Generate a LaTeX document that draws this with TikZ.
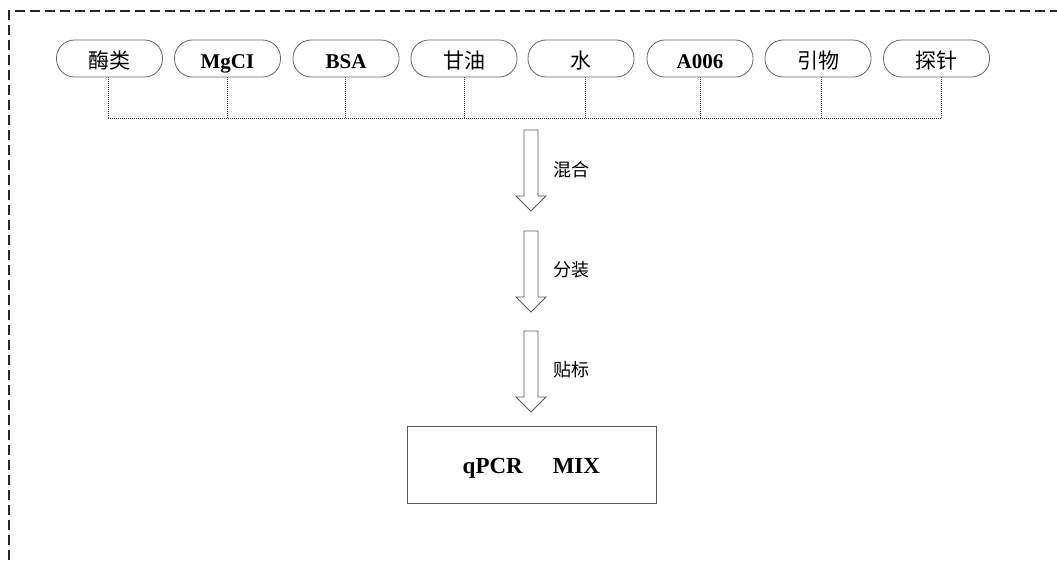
\documentclass[tikz,border=0pt]{standalone}
\usepackage{fontspec}
\setmainfont{Liberation Serif}
\newfontfamily\cjk{Noto Sans CJK SC}
\begin{document}
\begin{tikzpicture}[x=1pt,y=-1pt,
  pill/.style={draw=black!60, line width=0.8pt, rounded corners=18pt, minimum width=106pt, minimum height=37pt, inner sep=0pt, text height=19pt, text depth=0pt, font=\fontsize{21}{21}\selectfont},
  busline/.style={draw=black!75, line width=0.9pt, dash pattern=on 1pt off 1pt},
  frameline/.style={draw=black!85, line width=1.1pt, dash pattern=on 10pt off 5pt},
  steplabel/.style={anchor=west, inner sep=0pt, font=\cjk\fontsize{18}{18}\selectfont},
  resultbox/.style={draw=black!65, line width=0.8pt, minimum width=249pt, minimum height=77pt, inner sep=0pt, text height=17pt, text depth=0pt, font=\bfseries\fontsize{23}{23}\selectfont},
  hollowarrow/.pic={\draw[draw=black!65, line width=0.8pt, fill=white] (-7,0) -- (-7,66) -- (-15,66) -- (0,81) -- (15,66) -- (7,66) -- (7,0) -- cycle;}
]
\useasboundingbox (0,0) rectangle (1057,560);
\fill[white] (0,0) rectangle (1057,560);
% dashed frame (only left and top visible)
\coordinate (fbl) at (9,560);
\coordinate (ftl) at (9,11);
\coordinate (ftr) at (1057,11);
\draw[frameline] (fbl) -- (ftl) -- (ftr);
% pills
\node[pill] (p1) at (109.5,58.5) {\cjk 酶类};
\node[pill] (p2) at (227.5,58.5) {\bfseries MgCI};
\node[pill] (p3) at (346,58.5) {\bfseries BSA};
\node[pill] (p4) at (464,58.5) {\cjk 甘油};
\node[pill] (p5) at (581,58.5) {\cjk 水};
\node[pill] (p6) at (700,58.5) {\bfseries A006};
\node[pill] (p7) at (818,58.5) {\cjk 引物};
\node[pill] (p8) at (936.5,58.5) {\cjk 探针};
% bus
\coordinate (b1) at (108,118);
\coordinate (b2) at (227,118);
\coordinate (b3) at (345,118);
\coordinate (b4) at (464,118);
\coordinate (b5) at (585,118);
\coordinate (b6) at (700,118);
\coordinate (b7) at (821,118);
\coordinate (b8) at (941,118);
\draw[busline] (b1) -- (b8);
\draw[busline] (p1.south -| b1) -- (b1);
\draw[busline] (p2.south -| b2) -- (b2);
\draw[busline] (p3.south -| b3) -- (b3);
\draw[busline] (p4.south -| b4) -- (b4);
\draw[busline] (p5.south -| b5) -- (b5);
\draw[busline] (p6.south -| b6) -- (b6);
\draw[busline] (p7.south -| b7) -- (b7);
\draw[busline] (p8.south -| b8) -- (b8);
% arrows
\pic at (531,130) {hollowarrow};
\pic at (531,231) {hollowarrow};
\pic at (531,331) {hollowarrow};
\node[steplabel] (l1) at (553,170) {混合};
\node[steplabel] (l2) at (553,270) {分装};
\node[steplabel] (l3) at (553,370) {贴标};
% result
\node[resultbox] (res) at (531.4,464.5) {qPCR\hspace{30pt}MIX};
\end{tikzpicture}
\end{document}
